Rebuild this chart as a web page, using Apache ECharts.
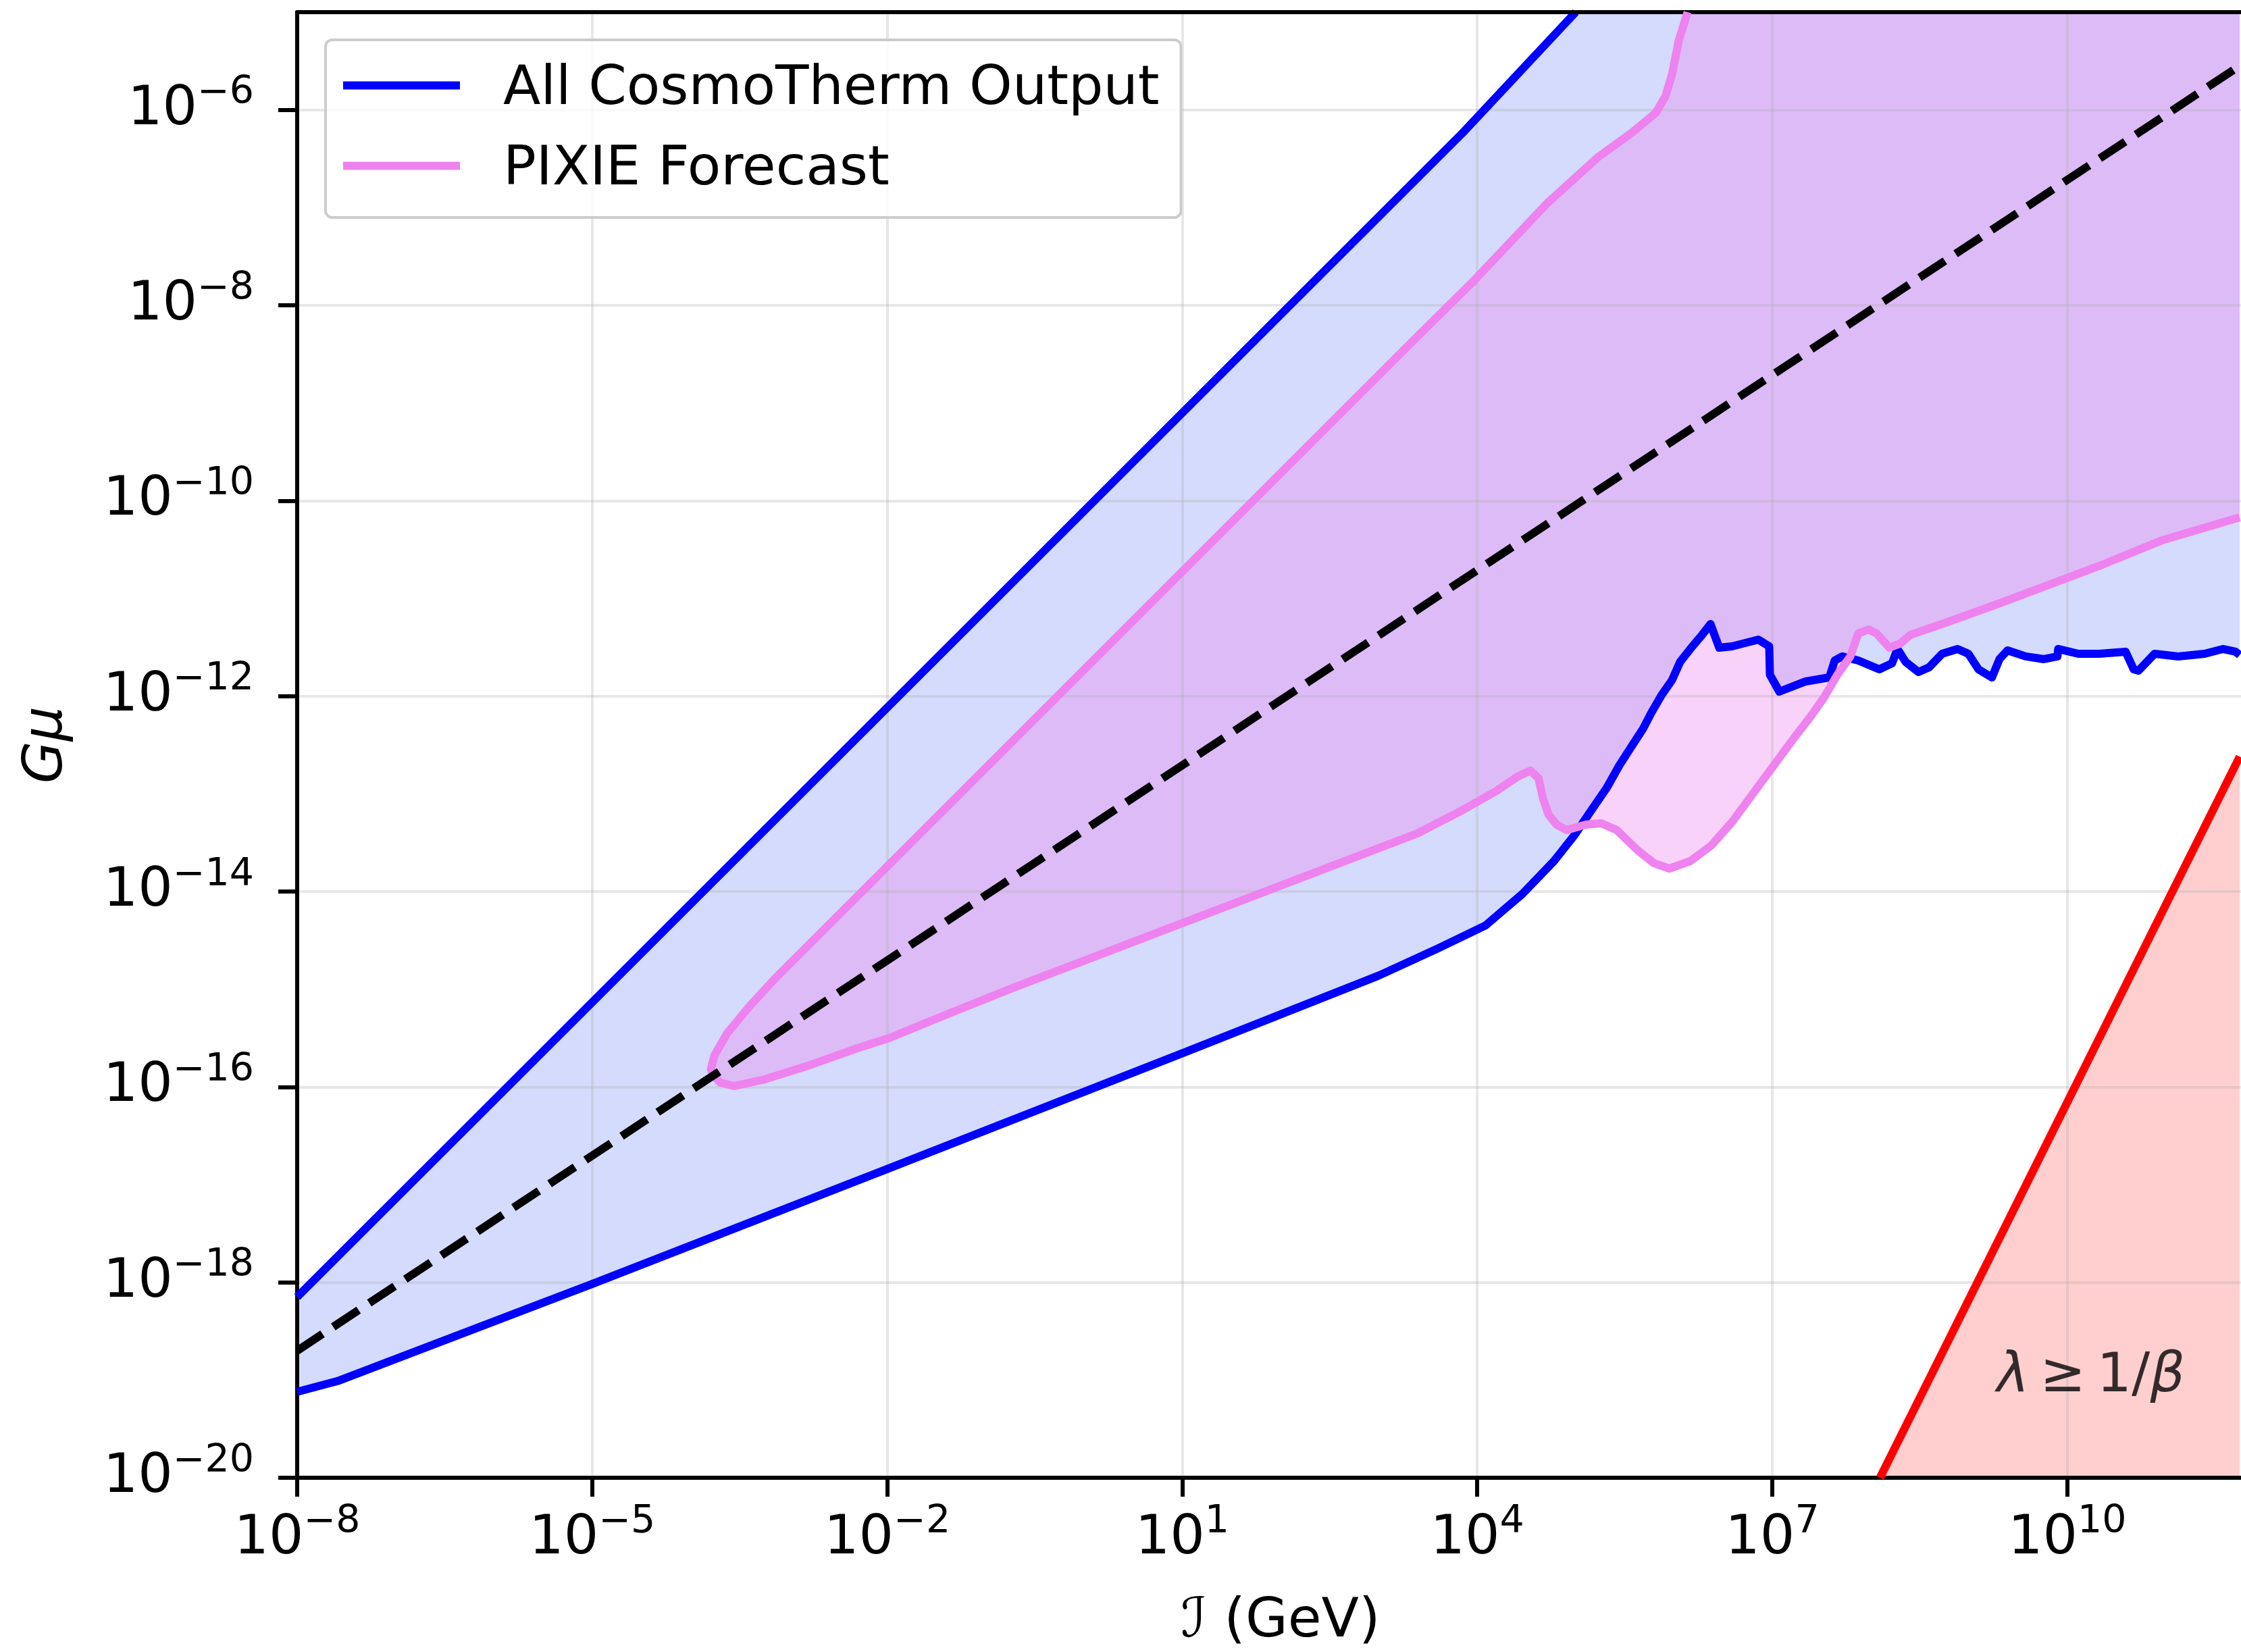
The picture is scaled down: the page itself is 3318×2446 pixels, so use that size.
<!DOCTYPE html>
<html>
<head>
<meta charset="utf-8">
<script src="https://cdn.jsdelivr.net/npm/echarts/dist/echarts.min.js"></script>
<style>
html, body { margin: 0; padding: 0; background: #ffffff; }
#chart { width: 3318px; height: 2446px; }
</style>
</head>
<body>
<div id="chart"></div>
<script>
// ---- DATA (all values are log10 exponents: [log10(I / GeV), log10(G mu)]) ----
const xTickExponents = [-8, -5, -2, 1, 4, 7, 10];
const yTickExponents = [-20, -18, -16, -14, -12, -10, -8, -6];
const xRange = [-8, 12];
const yRange = [-20, -5];

const seriesNames = ['All CosmoTherm Output', 'PIXIE Forecast'];

// Upper edge of the CosmoTherm region
const cosmoUpper = [
  [-8.0, -18.15], [3.854, -6.233], [5.001, -5.0]
];

// Lower edge of the CosmoTherm region
const cosmoLower = [
  [-8.00, -19.12], [-7.588, -19.01], [-5.01, -18.02], [-2.00, -16.84], [0.99, -15.66],
  [3.00, -14.86], [3.606, -14.58], [4.086, -14.346], [4.457, -14.027], [4.780, -13.689],
  [4.992, -13.419], [5.150, -13.184], [5.315, -12.942], [5.446, -12.707], [5.583, -12.493],
  [5.686, -12.334], [5.768, -12.175], [5.871, -11.995], [5.981, -11.836], [6.063, -11.650],
  [6.166, -11.518], [6.276, -11.387], [6.372, -11.263], [6.461, -11.505], [6.592, -11.491],
  [6.859, -11.422], [6.969, -11.491], [6.976, -11.781], [7.072, -11.954], [7.340, -11.850],
  [7.580, -11.809], [7.635, -11.636], [7.710, -11.594], [7.875, -11.636], [8.088, -11.726],
  [8.218, -11.664], [8.273, -11.518], [8.356, -11.650], [8.486, -11.753], [8.596, -11.705],
  [8.726, -11.567], [8.884, -11.518], [8.994, -11.567], [9.097, -11.726], [9.234, -11.809],
  [9.310, -11.622], [9.392, -11.532], [9.577, -11.594], [9.762, -11.622], [9.900, -11.594],
  [9.907, -11.518], [10.112, -11.567], [10.325, -11.567], [10.593, -11.546], [10.675, -11.726],
  [10.723, -11.740], [10.888, -11.567], [11.128, -11.594], [11.396, -11.567], [11.581, -11.518],
  [11.711, -11.546], [11.753, -11.580]
];

// PIXIE contour: upper branch from the tip to the top edge
const pixieUpper = [
  [-3.793, -15.818], [-3.758, -15.680], [-3.628, -15.452], [-3.401, -15.175], [-3.148, -14.899],
  [3.393, -8.318], [3.977, -7.737], [4.718, -6.949], [5.226, -6.486], [5.569, -6.237],
  [5.816, -6.030], [5.912, -5.864], [5.981, -5.636], [6.049, -5.290], [6.139, -5.0]
];

// PIXIE contour: lower branch from the tip to the right edge
const pixieLower = [
  [-3.765, -15.887], [-3.697, -15.956], [-3.559, -15.991], [-3.244, -15.922], [-2.784, -15.776],
  [-2.324, -15.611], [-1.981, -15.500], [-1.411, -15.265], [-0.725, -14.988], [3.393, -13.405],
  [3.819, -13.184], [4.196, -12.970], [4.409, -12.825], [4.540, -12.763], [4.622, -12.839],
  [4.670, -13.053], [4.725, -13.212], [4.807, -13.316], [4.910, -13.371], [5.102, -13.316],
  [5.260, -13.302], [5.418, -13.371], [5.631, -13.578], [5.796, -13.710], [5.953, -13.765],
  [6.166, -13.689], [6.379, -13.530], [6.592, -13.288], [6.804, -12.998], [7.017, -12.707],
  [7.230, -12.417], [7.395, -12.203], [7.525, -12.016], [7.662, -11.781], [7.793, -11.594],
  [7.875, -11.359], [7.978, -11.318], [8.061, -11.359], [8.191, -11.504], [8.301, -11.463],
  [8.404, -11.373], [8.726, -11.263], [9.261, -11.069], [9.790, -10.869], [10.325, -10.668],
  [10.964, -10.405], [11.753, -10.170]
];

// Dashed black reference line
const dashedLine = [[-8.0, -18.70], [11.753, -5.55]];

// lambda >= 1/beta boundary (red)
const lambdaLine = [[8.095, -20.0], [11.753, -12.62]];
const lambdaLabelPos = [10.24, -18.97];
const lambdaLabelText = '{i|\u03bb}{r|\u2009\u2265\u20091/}{i|\u03b2}';

// ---- CHART ----
const FONT = "'DejaVu Sans', sans-serif";

function powerLabel(v, step, base) {
  const n = Math.round(v);
  if (Math.abs(v - n) > 1e-6) return '';
  if (((n - base) % step + step) % step !== 0) return '';
  const e = n < 0 ? '\u2212' + (-n) : String(n);
  return '{b|10}{s|' + e + '}';
}

const tickRich = {
  b: { fontFamily: FONT, fontSize: 81, color: '#000' },
  s: { fontFamily: FONT, fontSize: 57, color: '#000', padding: [0, 0, 48, 0] }
};

function fillSeries(points, color) {
  return {
    type: 'custom',
    coordinateSystem: 'cartesian2d',
    xAxisIndex: 0, yAxisIndex: 0,
    silent: true,
    clip: true,
    z: 1,
    data: points,
    renderItem: function (params, api) {
      if (params.dataIndex !== 0) return null;
      const pts = points.map(function (p) { return api.coord(p); });
      return { type: 'polygon', shape: { points: pts }, style: { fill: color } };
    }
  };
}

const lastCosmoX = cosmoLower[cosmoLower.length - 1][0];
const lastPixieX = pixieLower[pixieLower.length - 1][0];
const lastLambdaX = lambdaLine[lambdaLine.length - 1][0];

const cosmoPolygon = cosmoUpper.concat([[lastCosmoX, yRange[1]]], cosmoLower.slice().reverse());
const pixiePolygon = pixieUpper.concat([[lastPixieX, yRange[1]]], pixieLower.slice().reverse());
const lambdaPolygon = lambdaLine.concat([[lastLambdaX, yRange[0]]]);
const pixieOutline = pixieUpper.slice().reverse().concat(pixieLower);

const chart = echarts.init(document.getElementById('chart'), null, { renderer: 'canvas' });

const option = {
  animation: false,
  backgroundColor: '#ffffff',
  grid: {
    left: 440, top: 18, right: -34, bottom: 258,
    containLabel: false, outerBoundsMode: 'none'
  },
  legend: {
    data: seriesNames,
    orient: 'vertical',
    left: 482, top: 59,
    padding: [21, 32, 30, 26],
    itemGap: 26,
    itemWidth: 173,
    itemHeight: 12,
    icon: 'rect',
    selectedMode: false,
    backgroundColor: 'rgba(255,255,255,0.8)',
    borderColor: '#cccccc',
    borderWidth: 4,
    borderRadius: 10,
    z: 20,
    formatter: function (name) { return '{sp|}{t|' + name + '}'; },
    textStyle: {
      fontFamily: FONT, fontSize: 81, color: '#000', lineHeight: 90,
      rich: {
        sp: { width: 59, lineHeight: 90 },
        t: { fontFamily: FONT, fontSize: 81, color: '#000', lineHeight: 90, padding: [12, 0, 0, 0] }
      }
    }
  },
  xAxis: [
    {
      type: 'value', min: xRange[0], max: xRange[1], interval: 3, position: 'bottom',
      name: '\u2110 (GeV)', nameLocation: 'middle', nameGap: 173, nameMoveOverlap: false,
      nameTextStyle: { fontFamily: FONT, fontSize: 81, color: '#000' },
      axisLine: { show: true, onZero: false, lineStyle: { color: '#000', width: 6 } },
      axisTick: { show: true, length: 28, lineStyle: { color: '#000', width: 6 }, customValues: xTickExponents },
      axisLabel: {
        show: true, margin: 38, customValues: xTickExponents, hideOverlap: false,
        formatter: function (v) { return powerLabel(v, 3, -8); }, rich: tickRich
      },
      splitLine: { show: true, lineStyle: { color: 'rgba(176,176,176,0.3)', width: 4 } },
      z: 2
    },
    {
      type: 'value', min: xRange[0], max: xRange[1], position: 'top',
      axisLine: { show: true, onZero: false, lineStyle: { color: '#000', width: 6 } },
      axisTick: { show: false }, axisLabel: { show: false }, splitLine: { show: false },
      z: 4
    }
  ],
  yAxis: [
    {
      type: 'value', min: yRange[0], max: yRange[1], interval: 2, position: 'left',
      name: 'G\u03bc', nameLocation: 'middle', nameGap: 330, nameMoveOverlap: false,
      nameTextStyle: { fontFamily: FONT, fontSize: 81, color: '#000', fontStyle: 'italic' },
      axisLine: { show: true, onZero: false, lineStyle: { color: '#000', width: 6 } },
      axisTick: { show: true, length: 28, lineStyle: { color: '#000', width: 6 }, customValues: yTickExponents },
      axisLabel: {
        show: true, margin: 64, customValues: yTickExponents, hideOverlap: false,
        formatter: function (v) { return powerLabel(v, 2, -20); }, rich: tickRich
      },
      splitLine: { show: true, lineStyle: { color: 'rgba(176,176,176,0.3)', width: 4 } },
      z: 2
    }
  ],
  series: [
    fillSeries(cosmoPolygon, 'rgba(40,75,240,0.2)'),
    fillSeries(pixiePolygon, 'rgba(238,130,238,0.36)'),
    fillSeries(lambdaPolygon, 'rgba(255,0,0,0.19)'),
    {
      name: seriesNames[0], type: 'line', data: cosmoUpper, showSymbol: false, symbol: 'none',
      z: 3, silent: true,
      itemStyle: { color: '#0000ff' },
      lineStyle: { color: '#0000ff', width: 12, join: 'round' }
    },
    {
      name: seriesNames[0], type: 'line', data: cosmoLower, showSymbol: false, symbol: 'none',
      z: 3, silent: true,
      itemStyle: { color: '#0000ff' },
      lineStyle: { color: '#0000ff', width: 12, join: 'round' }
    },
    {
      name: seriesNames[1], type: 'line', data: pixieOutline, showSymbol: false, symbol: 'none',
      z: 4, silent: true,
      itemStyle: { color: '#ee82ee' },
      lineStyle: { color: '#ee82ee', width: 12, join: 'round' }
    },
    {
      name: 'ratio', type: 'line', data: dashedLine, showSymbol: false, symbol: 'none',
      z: 4, silent: true,
      itemStyle: { color: '#000000' },
      lineStyle: { color: '#000000', width: 12, type: [45, 19], cap: 'butt' }
    },
    {
      name: 'lambda', type: 'line', data: lambdaLine, showSymbol: false, symbol: 'none',
      z: 4, silent: true,
      itemStyle: { color: '#ff0000' },
      lineStyle: { color: '#ff0000', width: 12 }
    },
    {
      name: 'lambdaLabel', type: 'scatter', data: [lambdaLabelPos], symbolSize: 1,
      itemStyle: { color: 'rgba(0,0,0,0)' }, silent: true, z: 5,
      label: {
        show: true, position: 'inside', formatter: lambdaLabelText,
        rich: {
          i: { fontFamily: FONT, fontSize: 81, color: '#000', fontStyle: 'italic' },
          r: { fontFamily: FONT, fontSize: 81, color: '#000' }
        }
      }
    }
  ]
};

chart.setOption(option);
</script>
</body>
</html>
